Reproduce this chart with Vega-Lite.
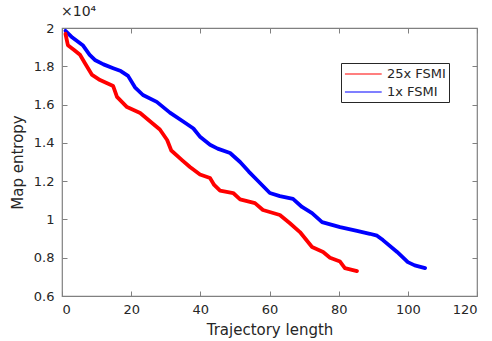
{
  "$schema": "https://vega.github.io/schema/vega-lite/v6.json",
  "width": 415,
  "height": 268,
  "autosize": {"type": "none"},
  "padding": {"left": 62, "top": 28, "right": 15, "bottom": 45},
  "background": "white",
  "title": {"text": "×10⁴", "anchor": "start", "frame": "group", "offset": 3, "fontSize": 14, "fontWeight": "normal", "font": "DejaVu Sans", "color": "#262626", "dx": -1},
  "config": {
    "view": {"stroke": "#808080", "strokeWidth": 1.2},
    "axis": {
      "labelFont": "DejaVu Sans", "labelFontSize": 13, "labelColor": "#262626",
      "titleFont": "DejaVu Sans", "titleFontSize": 15, "titleFontWeight": "normal", "titleColor": "#262626",
      "domain": false, "grid": false, "tickColor": "#808080", "tickSize": -5, "tickWidth": 1
    },
    "legend": {"labelFont": "DejaVu Sans", "labelFontSize": 13, "labelColor": "#262626"}
  },
  "data": {"values": [
    {"method": "1x FSMI", "length": 1, "entropy": 19850},
    {"method": "1x FSMI", "length": 3, "entropy": 19500},
    {"method": "1x FSMI", "length": 6, "entropy": 19100},
    {"method": "1x FSMI", "length": 8, "entropy": 18600},
    {"method": "1x FSMI", "length": 9.5, "entropy": 18330},
    {"method": "1x FSMI", "length": 12, "entropy": 18100},
    {"method": "1x FSMI", "length": 14.8, "entropy": 17900},
    {"method": "1x FSMI", "length": 17, "entropy": 17750},
    {"method": "1x FSMI", "length": 19.1, "entropy": 17500},
    {"method": "1x FSMI", "length": 21.1, "entropy": 16900},
    {"method": "1x FSMI", "length": 23.4, "entropy": 16500},
    {"method": "1x FSMI", "length": 27.4, "entropy": 16140},
    {"method": "1x FSMI", "length": 31.2, "entropy": 15580},
    {"method": "1x FSMI", "length": 36, "entropy": 15000},
    {"method": "1x FSMI", "length": 38, "entropy": 14750},
    {"method": "1x FSMI", "length": 40, "entropy": 14300},
    {"method": "1x FSMI", "length": 42.8, "entropy": 13900},
    {"method": "1x FSMI", "length": 45, "entropy": 13700},
    {"method": "1x FSMI", "length": 48.6, "entropy": 13470},
    {"method": "1x FSMI", "length": 51.5, "entropy": 13000},
    {"method": "1x FSMI", "length": 54, "entropy": 12500},
    {"method": "1x FSMI", "length": 56.4, "entropy": 12060},
    {"method": "1x FSMI", "length": 60.1, "entropy": 11380},
    {"method": "1x FSMI", "length": 63, "entropy": 11220},
    {"method": "1x FSMI", "length": 66.8, "entropy": 11070},
    {"method": "1x FSMI", "length": 69.4, "entropy": 10650},
    {"method": "1x FSMI", "length": 72.3, "entropy": 10330},
    {"method": "1x FSMI", "length": 75.2, "entropy": 9860},
    {"method": "1x FSMI", "length": 80.4, "entropy": 9600},
    {"method": "1x FSMI", "length": 85.3, "entropy": 9400},
    {"method": "1x FSMI", "length": 89, "entropy": 9250},
    {"method": "1x FSMI", "length": 91.1, "entropy": 9150},
    {"method": "1x FSMI", "length": 92.8, "entropy": 8920},
    {"method": "1x FSMI", "length": 96.9, "entropy": 8300},
    {"method": "1x FSMI", "length": 100, "entropy": 7770},
    {"method": "1x FSMI", "length": 102, "entropy": 7600},
    {"method": "1x FSMI", "length": 105, "entropy": 7460},
    {"method": "25x FSMI", "length": 1, "entropy": 19700},
    {"method": "25x FSMI", "length": 1.7, "entropy": 19100},
    {"method": "25x FSMI", "length": 3.5, "entropy": 18850},
    {"method": "25x FSMI", "length": 5.2, "entropy": 18600},
    {"method": "25x FSMI", "length": 6.6, "entropy": 18170},
    {"method": "25x FSMI", "length": 8.7, "entropy": 17550},
    {"method": "25x FSMI", "length": 11, "entropy": 17280},
    {"method": "25x FSMI", "length": 14.8, "entropy": 16970},
    {"method": "25x FSMI", "length": 15.9, "entropy": 16400},
    {"method": "25x FSMI", "length": 18.8, "entropy": 15870},
    {"method": "25x FSMI", "length": 22.6, "entropy": 15560},
    {"method": "25x FSMI", "length": 26.3, "entropy": 15000},
    {"method": "25x FSMI", "length": 28.3, "entropy": 14700},
    {"method": "25x FSMI", "length": 30.4, "entropy": 14150},
    {"method": "25x FSMI", "length": 31.6, "entropy": 13600},
    {"method": "25x FSMI", "length": 34.7, "entropy": 13100},
    {"method": "25x FSMI", "length": 37, "entropy": 12740},
    {"method": "25x FSMI", "length": 39.9, "entropy": 12350},
    {"method": "25x FSMI", "length": 42.8, "entropy": 12160},
    {"method": "25x FSMI", "length": 44, "entropy": 11800},
    {"method": "25x FSMI", "length": 45.7, "entropy": 11500},
    {"method": "25x FSMI", "length": 49.5, "entropy": 11380},
    {"method": "25x FSMI", "length": 51.5, "entropy": 11050},
    {"method": "25x FSMI", "length": 55.8, "entropy": 10850},
    {"method": "25x FSMI", "length": 58.1, "entropy": 10490},
    {"method": "25x FSMI", "length": 63, "entropy": 10230},
    {"method": "25x FSMI", "length": 65.9, "entropy": 9800},
    {"method": "25x FSMI", "length": 68.8, "entropy": 9340},
    {"method": "25x FSMI", "length": 72.3, "entropy": 8560},
    {"method": "25x FSMI", "length": 75.5, "entropy": 8300},
    {"method": "25x FSMI", "length": 77.5, "entropy": 8000},
    {"method": "25x FSMI", "length": 80.4, "entropy": 7800},
    {"method": "25x FSMI", "length": 81.8, "entropy": 7460},
    {"method": "25x FSMI", "length": 85.3, "entropy": 7300}
  ]},
  "layer": [
    {
      "mark": {"type": "line", "strokeWidth": 3.8, "strokeCap": "round", "strokeJoin": "round"},
      "encoding": {
        "x": {"field": "length", "type": "quantitative", "scale": {"domain": [0, 120], "nice": false},
              "axis": {"title": "Trajectory length", "values": [0, 20, 40, 60, 80, 100, 120], "labelPadding": 12, "titlePadding": 6}},
        "y": {"field": "entropy", "type": "quantitative", "scale": {"domain": [6000, 20000], "nice": false, "zero": false},
              "axis": {"title": "Map entropy", "values": [6000, 8000, 10000, 12000, 14000, 16000, 18000, 20000], "labelExpr": "format(datum.value/10000, '~g')", "labelPadding": 13, "titlePadding": 8}},
        "color": {"field": "method", "type": "nominal",
                  "scale": {"domain": ["25x FSMI", "1x FSMI"], "range": ["#ff0000", "#0000ff"]},
                  "legend": {"title": null, "orient": "none", "legendX": 279, "legendY": 35, "symbolType": "M-1,0L4.2,0", "symbolSize": 200, "symbolStrokeWidth": 1.2, "fillColor": "white", "strokeColor": "#262626", "padding": 3, "rowPadding": 3, "labelOffset": 27, "offset": 0}},
        "detail": {"field": "method"}
      }
    },
    {
      "mark": {"type": "line", "opacity": 0},
      "encoding": {
        "x": {"field": "length", "type": "quantitative", "scale": {"domain": [0, 120], "nice": false},
              "axis": {"orient": "top", "title": null, "labels": false, "values": [0, 20, 40, 60, 80, 100, 120]}},
        "y": {"field": "entropy", "type": "quantitative", "scale": {"domain": [6000, 20000], "nice": false, "zero": false},
              "axis": {"orient": "right", "title": null, "labels": false, "values": [6000, 8000, 10000, 12000, 14000, 16000, 18000, 20000]}},
        "detail": {"field": "method"}
      }
    }
  ],
  "resolve": {"axis": {"x": "independent", "y": "independent"}}
}
